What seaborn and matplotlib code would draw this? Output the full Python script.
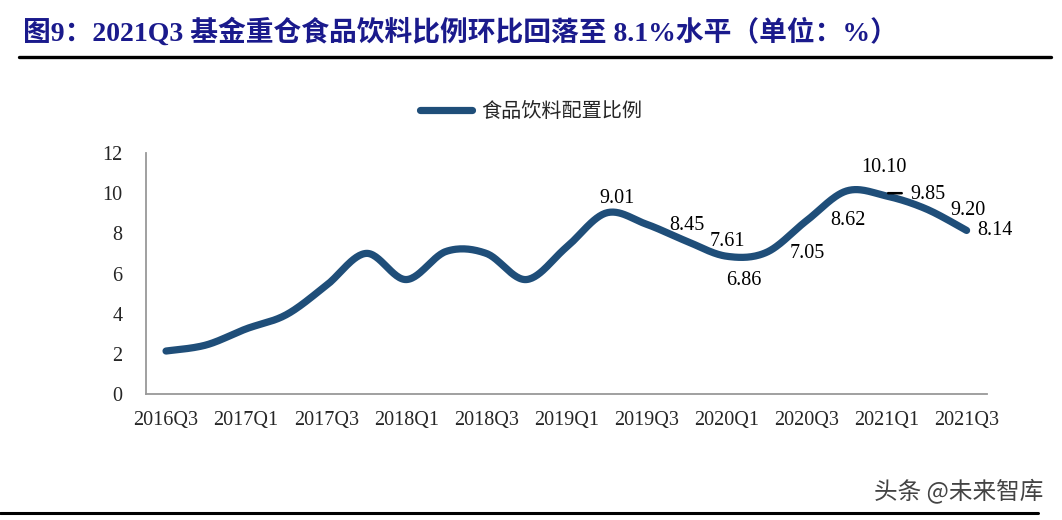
import numpy as np
import pandas as pd
import seaborn as sns
import matplotlib.pyplot as plt
from matplotlib.lines import Line2D

quarters = ["2016Q3", "2016Q4", "2017Q1", "2017Q2", "2017Q3", "2017Q4",
            "2018Q1", "2018Q2", "2018Q3", "2018Q4", "2019Q1", "2019Q2",
            "2019Q3", "2019Q4", "2020Q1", "2020Q2", "2020Q3", "2020Q4",
            "2021Q1", "2021Q2", "2021Q3"]
ratio = [2.15, 2.45, 3.25, 3.95, 5.4, 7.0, 5.7, 7.1, 7.0, 5.7, 7.3, 9.01,
         8.45, 7.61, 6.86, 7.05, 8.62, 10.10, 9.85, 9.20, 8.14]
label_texts = ["9.01", "8.45", "7.61", "6.86", "7.05", "8.62", "10.10",
               "9.85", "9.20", "8.14"]
label_offsets = [(11, 14), (41, -1), (41, 0), (17, -24), (41, -1),
                 (41, 0), (37, 23), (41, 2), (41, -1), (28, 0)]

line_color = "#1F4E79"
serif = ["Liberation Serif", "Noto Sans CJK SC"]
cjk = ["Noto Sans CJK SC", "DejaVu Sans"]

sns.set_style("white")
plt.rcParams["font.family"] = serif


def smooth(xs, ys, n=30):
    # excel style smoothed line: bezier through points, catmull-rom controls
    xs = np.asarray(xs, float)
    ys = np.asarray(ys, float)
    px = np.concatenate([[xs[0]], xs, [xs[-1]]])
    py = np.concatenate([[ys[0]], ys, [ys[-1]]])
    out_x, out_y = [], []
    t = np.linspace(0, 1, n)
    for i in range(len(xs) - 1):
        x0, y0 = px[i + 1], py[i + 1]
        x3, y3 = px[i + 2], py[i + 2]
        x1 = x0 + (px[i + 2] - px[i]) / 6
        y1 = y0 + (py[i + 2] - py[i]) / 6
        x2 = x3 - (px[i + 3] - px[i + 1]) / 6
        y2 = y3 - (py[i + 3] - py[i + 1]) / 6
        bx = (1 - t) ** 3 * x0 + 3 * (1 - t) ** 2 * t * x1 + 3 * (1 - t) * t ** 2 * x2 + t ** 3 * x3
        by = (1 - t) ** 3 * y0 + 3 * (1 - t) ** 2 * t * y1 + 3 * (1 - t) * t ** 2 * y2 + t ** 3 * y3
        out_x.extend(bx)
        out_y.extend(by)
    return np.array(out_x), np.array(out_y)


pos = np.arange(len(quarters))
sx, sy = smooth(pos, ratio)
curve = pd.DataFrame({"x": sx, "y": sy})

fig = plt.figure(figsize=(10.62, 5.2), dpi=100)
ax = fig.add_axes([0.1375, 0.2417, 0.7915, 0.4646])
sns.lineplot(data=curve, x="x", y="y", ax=ax, sort=False, estimator=None,
             color=line_color, linewidth=5.2, solid_capstyle="round")

ax.set_xlim(-0.5, len(quarters) - 0.5)
ax.set_ylim(0, 12)
ax.set_yticks(range(0, 13, 2))
ax.set_xticks(pos[::2])
ax.set_xticklabels(quarters[::2])
ax.set_xticks(np.arange(-0.5, len(quarters), 1), minor=True)
ax.tick_params(axis="x", which="major", length=0, pad=12, labelsize=14.5)
ax.tick_params(axis="x", which="minor", length=5, color="#999999", width=1.3)
ax.tick_params(axis="y", length=5, color="#999999", width=1.3, labelsize=14.5, pad=12)
ax.set_xlabel("")
ax.set_ylabel("")
for s in ["top", "right"]:
    ax.spines[s].set_visible(False)
for s in ["left", "bottom"]:
    ax.spines[s].set_color("#999999")
    ax.spines[s].set_linewidth(1.3)

start = len(ratio) - len(label_texts)
for k, txt in enumerate(label_texts):
    i = start + k
    dx, dy = label_offsets[k]
    ax.annotate(txt, (pos[i], ratio[i]), xytext=(dx, dy), textcoords="offset pixels",
                ha="center", va="center", fontsize=14.5, color="black")
# short leader line next to 9.85
ax.annotate("", (pos[18] + 0.04, ratio[18] + 0.14), xytext=(pos[18] + 0.38, ratio[18] + 0.14),
            arrowprops=dict(arrowstyle="-", color="black", lw=1.8, shrinkA=0, shrinkB=0))

handle = Line2D([], [], color=line_color, linewidth=5.2, solid_capstyle="round")
fig.legend([handle], ["食品饮料配置比例"], loc="center", bbox_to_anchor=(0.5, 0.785),
           frameon=False, handlelength=2.6, handletextpad=0.45,
           prop={"family": cjk, "size": 14.5})

fig.text(0.022, 0.9375, "图9：2021Q3 基金重仓食品饮料比例环比回落至 8.1%水平（单位：%）",
         fontsize=20, fontweight="bold", color="#1A1A8C", family=serif, va="center")
fig.add_artist(Line2D([0.018, 0.99], [0.891, 0.891], color="black", lw=2.4))
fig.add_artist(Line2D([0.0, 0.977], [0.013, 0.013], color="black", lw=2.2))
fig.text(0.982, 0.056, "头条 @未来智库", fontsize=17, color="#444444",
         family=cjk, ha="right", va="center")

fig.savefig("out.png", dpi=100)
